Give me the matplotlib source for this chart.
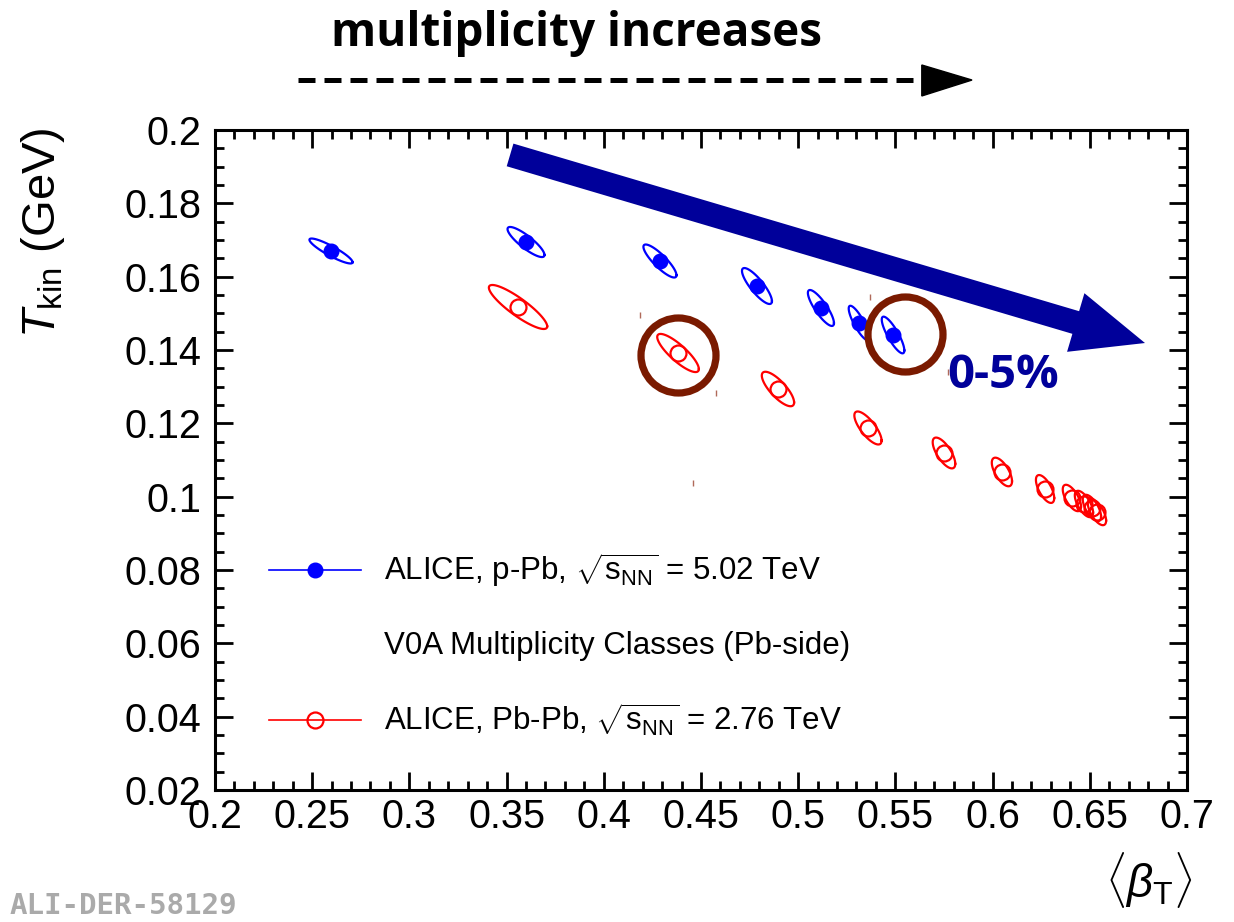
import numpy as np
import matplotlib
matplotlib.use("Agg")
import matplotlib.pyplot as plt
from matplotlib.patches import FancyArrowPatch, Polygon

plt.rcParams["font.family"] = ["Liberation Sans", "DejaVu Sans"]
plt.rcParams["mathtext.fontset"] = "custom"
plt.rcParams["mathtext.rm"] = "Liberation Sans"
plt.rcParams["mathtext.it"] = "Liberation Sans:italic"

# -----------------------------------------
# data
# -----------------------------------------
# p-Pb 5.02 TeV, V0A multiplicity classes
ppb_beta = [0.2597, 0.3600, 0.4289, 0.4788, 0.5117, 0.5313, 0.5488]
ppb_tkin = [0.1670, 0.16945, 0.16427, 0.15745, 0.15146, 0.14736, 0.14409]
# contour half-extents and correlation
ppb_dbeta = [0.0111, 0.0095, 0.0085, 0.0077, 0.0067, 0.0053, 0.0058]
ppb_dtkin = [0.0034, 0.0041, 0.0045, 0.0049, 0.0049, 0.0047, 0.0050]
ppb_rho = [-0.90, -0.86, -0.86, -0.84, -0.84, -0.84, -0.84]

# Pb-Pb 2.76 TeV, centrality classes
pbpb_beta = [0.3559, 0.4382, 0.4896, 0.5359, 0.5750, 0.6048, 0.6270,
             0.6408, 0.6470, 0.6511, 0.6537]
pbpb_tkin = [0.15173, 0.13918, 0.12936, 0.11873, 0.11191, 0.10673, 0.10209,
             0.09964, 0.09800, 0.09691, 0.09582]
pbpb_dbeta = [0.0150, 0.0107, 0.0083, 0.0070, 0.0058, 0.0052, 0.0047,
              0.0047, 0.0047, 0.0047, 0.0047]
pbpb_dtkin = [0.0060, 0.0052, 0.0047, 0.0045, 0.0042, 0.0039, 0.0038,
              0.0036, 0.0036, 0.0036, 0.0036]
pbpb_rho = [-0.88, -0.84, -0.78, -0.76, -0.70, -0.65, -0.65,
            -0.65, -0.65, -0.65, -0.65]

# highlighted points (0-5% classes)
circle_beta = [0.4382, 0.5549]
circle_tkin = [0.13864, 0.14436]

# small leftover marks around the circles
mark_beta = [0.4186, 0.4577, 0.5369, 0.5771, 0.4459]
mark_tkin = [0.14955, 0.12827, 0.15446, 0.1340, 0.10373]

# big arrow (tail, head)
arrow_beta = [0.3518, 0.6784]
arrow_tkin = [0.1932, 0.1419]

blue = "#0000ff"
red = "#ff0000"
navy = "#00009a"
brown = "#7a1a00"


def contour(cx, cy, dx, dy, rho):
    t = np.linspace(0, 2 * np.pi, 120)
    x = cx + dx * np.cos(t)
    y = cy + dy * (rho * np.cos(t) + np.sqrt(1 - rho ** 2) * np.sin(t))
    return x, y


fig = plt.figure(figsize=(12.34, 9.22), dpi=100)
ax = fig.add_axes([0.1742, 0.1432, 0.7877, 0.7158])

for cx, cy, dx, dy, r in zip(ppb_beta, ppb_tkin, ppb_dbeta, ppb_dtkin, ppb_rho):
    ex, ey = contour(cx, cy, dx, dy, r)
    ax.plot(ex, ey, color=blue, lw=1.6)
for cx, cy, dx, dy, r in zip(pbpb_beta, pbpb_tkin, pbpb_dbeta, pbpb_dtkin, pbpb_rho):
    ex, ey = contour(cx, cy, dx, dy, r)
    ax.plot(ex, ey, color=red, lw=1.6)

ax.plot(ppb_beta, ppb_tkin, "o", color=blue, ms=10.5, ls="none")
ax.plot(pbpb_beta, pbpb_tkin, "o", mfc="none", mec=red, mew=1.6, ms=11.5, ls="none")

ax.plot(circle_beta, circle_tkin, "o", mfc="none", mec=brown, mew=5.2, ms=54,
        ls="none")
ax.plot(mark_beta, mark_tkin, "|", color="#b06a5a", ms=5, mew=1, ls="none")

arrow = FancyArrowPatch((arrow_beta[0], arrow_tkin[0]), (arrow_beta[1], arrow_tkin[1]),
                        arrowstyle="simple,head_length=52,head_width=44,tail_width=17",
                        mutation_scale=1, color=navy, shrinkA=0, shrinkB=0, lw=0)
ax.add_patch(arrow)

ax.text(0.6053, 0.1331, "0-5%", color=navy, fontsize=34, fontweight="bold",
        family="Open Sans", ha="center", va="center")

# legend drawn by hand, ROOT style
ax.plot([0.228, 0.275], [0.080, 0.080], color=blue, lw=1.2)
ax.plot([0.2515], [0.080], "o", color=blue, ms=10.5)
ax.text(0.287, 0.080, r"ALICE, p-Pb, $\sqrt{\mathrm{s}_{\mathrm{NN}}}$ = 5.02 TeV",
        fontsize=22.5, va="center")
ax.text(0.287, 0.0593, "V0A Multiplicity Classes (Pb-side)", fontsize=22.5,
        va="center")
ax.plot([0.228, 0.275], [0.0391, 0.0391], color=red, lw=1.2)
ax.plot([0.2515], [0.0391], "o", mfc="none", mec=red, mew=1.6, ms=11.5)
ax.text(0.287, 0.0391, r"ALICE, Pb-Pb, $\sqrt{\mathrm{s}_{\mathrm{NN}}}$ = 2.76 TeV",
        fontsize=22.5, va="center")

ax.set_xlim(0.2, 0.7)
ax.set_ylim(0.02, 0.2)
ax.set_xticks(np.arange(0.2, 0.7001, 0.05))
ax.set_xticklabels(["0.2", "0.25", "0.3", "0.35", "0.4", "0.45", "0.5", "0.55",
                    "0.6", "0.65", "0.7"])
ax.set_xticks(np.arange(0.2, 0.7001, 0.01), minor=True)
ax.set_yticks(np.arange(0.02, 0.2001, 0.02))
ax.set_yticklabels(["0.02", "0.04", "0.06", "0.08", "0.1", "0.12", "0.14",
                    "0.16", "0.18", "0.2"])
ax.set_yticks(np.arange(0.02, 0.2001, 0.005), minor=True)
ax.tick_params(which="both", direction="in", top=True, right=True, width=2,
               labelsize=28.5)
ax.tick_params(which="major", length=13)
ax.tick_params(which="minor", length=6.5)
ax.tick_params(axis="x", pad=6)
ax.tick_params(axis="y", pad=10)
for s in ax.spines.values():
    s.set_linewidth(2.2)

fig.text(0.931, 0.046, r"$\langle\beta_{\mathrm{T}}\rangle$", fontsize=33,
         ha="center", va="center")
fig.text(0.035, 0.748, r"$T_{\mathrm{kin}}$ (GeV)", fontsize=34, rotation=90,
         ha="center", va="center")

fig.text(0.1, 0.017, "ALI-DER-58129", family="DejaVu Sans Mono", fontweight="bold",
         fontsize=21, color="#aaaaaa", ha="center", va="center")

# multiplicity arrow on top
fig.text(0.467, 0.964, "multiplicity increases", family="Open Sans", fontweight="bold",
         fontsize=33, ha="center", va="center")
fig.add_artist(plt.Line2D([0.2415, 0.750], [0.9132, 0.9132], color="black", lw=3.6,
                          ls=(0, (3.4, 1.8)), transform=fig.transFigure))
fig.add_artist(Polygon([[0.747, 0.9295], [0.747, 0.8959], [0.7877, 0.9132]],
                       closed=True, color="black", transform=fig.transFigure))

fig.savefig("out.png", dpi=100)
